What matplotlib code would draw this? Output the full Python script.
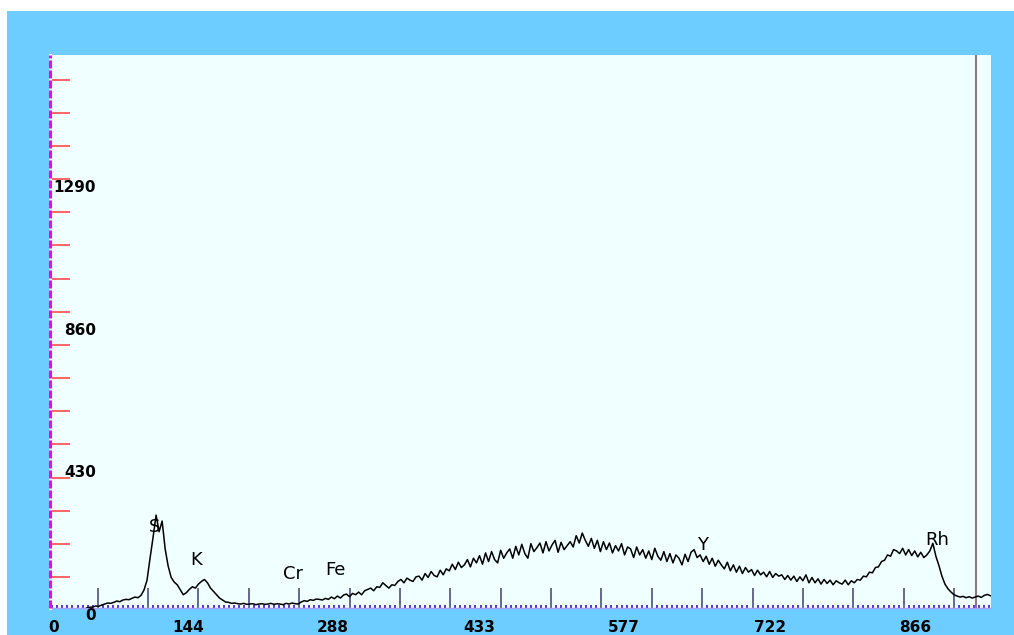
import numpy as np
import matplotlib
matplotlib.use("Agg")
import matplotlib.pyplot as plt
from matplotlib.patches import Rectangle
import matplotlib.transforms as mtransforms

plt.rcParams['lines.scale_dashes'] = False

# Spectrum counts, one value every 3 channels starting at channel 39
start_channel = 39
channel_step = 3
counts = [
    0, 2, 3, 6, 5, 9, 12, 15, 14, 17,
    21, 19, 24, 26, 25, 29, 33, 31, 38, 54,
    84, 150, 213, 280, 230, 262, 178, 126, 92, 78,
    70, 55, 40, 46, 56, 64, 60, 72, 80, 86,
    76, 60, 50, 40, 30, 24, 18, 17, 14, 15,
    13, 12, 14, 11, 12, 13, 10, 12, 13, 11,
    12, 14, 11, 13, 12, 10, 14, 12, 15, 13,
    12, 18, 22, 20, 25, 23, 27, 26, 24, 29,
    26, 33, 28, 36, 30, 39, 42, 34, 44, 40,
    48, 40, 52, 56, 60, 52, 64, 62, 76, 68,
    60, 70, 68, 80, 86, 76, 90, 84, 80, 94,
    96, 84, 104, 92, 110, 98, 94, 114, 100, 118,
    112, 132, 116, 138, 122, 130, 146, 124, 150, 136,
    158, 132, 166, 140, 170, 146, 136, 174, 150, 166,
    178, 150, 186, 160, 192, 164, 150, 194, 170, 182,
    196, 166, 200, 172, 190, 204, 168, 198, 176, 188,
    200, 184, 218, 196, 226, 204, 186, 210, 180, 204,
    170, 200, 176, 196, 166, 188, 172, 194, 160, 184,
    178, 152, 184, 160, 176, 150, 172, 146, 180, 156,
    144, 170, 140, 164, 136, 160, 150, 130, 162, 140,
    168, 176, 152, 160, 140, 156, 132, 150, 126, 144,
    130, 118, 138, 112, 130, 108, 126, 104, 122, 108,
    116, 98, 114, 100, 108, 94, 110, 92, 104, 96,
    100, 86, 98, 84, 96, 80, 94, 82, 100, 76,
    92, 76, 88, 72, 86, 74, 84, 70, 82, 76,
    72, 84, 70, 82, 76, 86, 84, 96, 94, 108,
    106, 122, 124, 140, 144, 160, 156, 176, 172, 164,
    180, 160, 176, 158, 172, 154, 168, 152, 160, 172,
    195, 156, 128, 96, 72, 58, 48, 40, 36, 33,
    35, 31, 34, 30, 33, 36, 32, 38, 41, 37,
]
channels = start_channel + channel_step * np.arange(len(counts))

# Axis annotations
x_label_values = [0, 144, 288, 433, 577, 722, 866]
x_label_texts = ["0", "144", "288", "433", "577", "722", "866"]
y_label_values = [0, 430, 860, 1290]
y_label_texts = ["0", "430", "860", "1290"]

# Element line labels
element_names = ["S", "K", "Cr", "Fe", "Y", "Rh"]
element_channels = [106, 148, 244, 286, 650, 883]
element_label_heights = [244, 145, 103, 115, 190, 205]

cursor_channel = 922

# ---- figure ----
W, H = 1014, 635
BLUE = "#6dcdff"
PANEL = "#f0ffff"
fig = plt.figure(figsize=(W / 100, H / 100), dpi=100)
fig.patch.set_facecolor("white")
fig.add_artist(Rectangle((7 / W, 0), 1 - 7 / W, (H - 11) / H,
                         transform=fig.transFigure, facecolor=BLUE,
                         edgecolor="none", zorder=0))

ax = fig.add_axes([50 / W, (H - 608) / H, (991 - 50) / W, (608 - 55) / H])
ax.set_facecolor(PANEL)
xmin, xmax = 2.7, 936.7
ymax = 1667
ax.set_xlim(xmin, xmax)
ax.set_ylim(0, ymax)

for side in ("top", "right", "left"):
    ax.spines[side].set_visible(False)
ax.spines["bottom"].set_color("#a8a0f0")
ax.spines["bottom"].set_linewidth(1.0)

# x ticks: long major marks and a dotted row of minor marks
ax.set_xticks(np.arange(50, 901, 50))
ax.set_xticks(np.arange(5, 936, 5), minor=True)
ax.tick_params(axis="x", which="major", direction="in", length=14.4,
               width=1.1, color="#404070", labelbottom=False)
ax.tick_params(axis="x", which="minor", direction="in", length=2.2,
               width=1.4, color="#5a32d2")

# y ticks: red marks off the dashed axis
ax.set_yticks(np.arange(93, 1600, 100))
ax.tick_params(axis="y", which="major", direction="in", length=14.4,
               width=1.4, color="#ff6464", labelleft=False)
ax.tick_params(axis="y", which="minor", left=False)

# dashed magenta y axis
ax.plot([xmin, xmin], [0, ymax], color=PANEL, lw=2.2, clip_on=False, zorder=4)
ax.plot([xmin, xmin], [0, ymax], color="#ff00dd", lw=2.2, clip_on=False,
        dashes=[5.8, 1.4], zorder=5)

# cursor marker
ax.axvline(cursor_channel, color="#8c7b80", lw=1.5, zorder=3)

# spectrum
ax.plot(channels, counts, color="black", lw=1.1, zorder=6)

# axis numbers
num_font = dict(family="DejaVu Sans", fontweight="bold", fontsize=11,
                color="black")
ytrans = mtransforms.blended_transform_factory(ax.transAxes, ax.transData)
for v, t in zip(y_label_values, y_label_texts):
    ax.text((96 - 50) / 941, v, t, transform=ytrans, ha="right", va="top",
            zorder=7, **num_font)

xtrans = mtransforms.blended_transform_factory(ax.transData, ax.transAxes)
label_shift = -4.5
label_x = np.maximum(np.array(x_label_values) + label_shift, xmin + 4)
for x, t in zip(label_x, x_label_texts):
    ax.text(x, -0.036, t, transform=xtrans, ha="center", va="center",
            clip_on=False, **num_font)

# element labels
for name, c, h in zip(element_names, element_channels, element_label_heights):
    ax.text(c, h, name, ha="center", va="center", fontsize=13,
            family="DejaVu Sans", color="black", zorder=7)

fig.savefig("out.png", dpi=100)
